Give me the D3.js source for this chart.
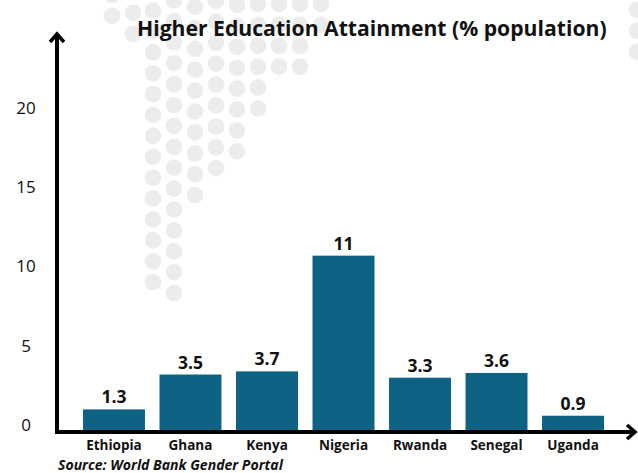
<!DOCTYPE html>
<html>
<head>
<meta charset="utf-8">
<script src="https://cdn.jsdelivr.net/npm/d3@7"></script>
<style>
  html, body { margin: 0; padding: 0; background: #ffffff; }
  svg { display: block; }
  text { font-family: "Open Sans", "Noto Sans", sans-serif; fill: #111111; }
</style>
</head>
<body>
<svg id="chart" width="638" height="473"></svg>
<script>
// Higher education attainment, share of population (%)
const countries = ["Ethiopia", "Ghana", "Kenya", "Nigeria", "Rwanda", "Senegal", "Uganda"];
const attainment = [1.3, 3.5, 3.7, 11, 3.3, 3.6, 0.9];
const valueLabels = ["1.3", "3.5", "3.7", "11", "3.3", "3.6", "0.9"];
const yTicks = [0, 5, 10, 15, 20];
const titleText = "Higher Education Attainment (% population)";
const sourceText = "Source: World Bank Gender Portal";

const W = 638, H = 473;
const svg = d3.select("#chart");

// ---- decorative dot pattern (background) ----
// each column: horizontal position, vertical phase and number of dots
const dotStep = 20.9;
const dotColumns = [
  { x: 112, y0: -5,   n: 2 },
  { x: 133, y0: -8,   n: 3 },
  { x: 153, y0: 10.5, n: 14 },
  { x: 174, y0: 0.5,  n: 15 },
  { x: 195, y0: 7,    n: 10 },
  { x: 216, y0: 1,    n: 9 },
  { x: 237, y0: 5,    n: 8 },
  { x: 258, y0: 4,    n: 6 },
  { x: 279, y0: 4,    n: 4 },
  { x: 300, y0: 4,    n: 4 },
  { x: 321, y0: 4,    n: 2 },
  { x: 637, y0: 10,   n: 3 }
];
const dots = dotColumns.flatMap(c => d3.range(c.n).map(i => ({ x: c.x, y: c.y0 + i * dotStep })));
svg.append("g")
  .selectAll("circle")
  .data(dots)
  .join("circle")
  .attr("cx", d => d.x)
  .attr("cy", d => d.y)
  .attr("r", 8.3)
  .attr("fill", "#ececec");

// ---- scales ----
const axisX = 57, axisY = 432;
const x = d3.scaleBand()
  .domain(countries)
  .range([83, 604])
  .paddingInner(0.19)
  .paddingOuter(0);
const y = d3.scaleLinear()
  .domain([0, 20])
  .range([430, 113]);

// ---- bars ----
svg.append("g")
  .selectAll("rect")
  .data(countries)
  .join("rect")
  .attr("x", d => x(d))
  .attr("width", x.bandwidth())
  .attr("y", (d, i) => y(attainment[i]))
  .attr("height", (d, i) => y(0) - y(attainment[i]))
  .attr("fill", "#0e6385");

// ---- value labels ----
svg.append("g")
  .selectAll("text")
  .data(countries)
  .join("text")
  .attr("x", d => x(d) + x.bandwidth() / 2)
  .attr("y", (d, i) => y(attainment[i]) - 6)
  .attr("text-anchor", "middle")
  .attr("font-size", 17.5)
  .attr("font-weight", 700)
  .text((d, i) => valueLabels[i]);

// ---- y axis tick labels ----
const yAxis = svg.append("g")
  .call(d3.axisLeft(y).tickValues(yTicks).tickSize(0).tickFormat(d3.format("d")));
yAxis.select(".domain").remove();
yAxis.selectAll("text")
  .attr("x", 26)
  .attr("text-anchor", "middle")
  .attr("font-size", 17)
  .attr("font-weight", 400)
  .attr("font-family", "'Open Sans', sans-serif")
  .attr("fill", "#1a1a1a")
  .attr("transform", "translate(0,-5)");

// ---- x axis category labels ----
const xAxis = svg.append("g")
  .attr("transform", `translate(0,${axisY})`)
  .call(d3.axisBottom(x).tickSize(0));
xAxis.select(".domain").remove();
xAxis.selectAll("text")
  .attr("y", 0)
  .attr("dy", "18px")
  .attr("font-size", 13.5)
  .attr("font-weight", 700)
  .attr("font-family", "'Open Sans', sans-serif")
  .attr("fill", "#111111");

// ---- axis lines with arrow heads ----
const axes = svg.append("g")
  .attr("fill", "none")
  .attr("stroke", "#000")
  .attr("stroke-width", 4)
  .attr("stroke-linejoin", "miter");
axes.append("path").attr("d", `M${axisX},${axisY + 2}V34`);
axes.append("path").attr("d", `M${axisX - 7},42L${axisX},34L${axisX + 7},42`).attr("stroke-width", 3.5);
axes.append("path").attr("d", `M${axisX - 2},${axisY}H635`);
axes.append("path").attr("d", `M627,${axisY - 7}L635,${axisY}L627,${axisY + 7}`).attr("stroke-width", 3.5);

// ---- title ----
const title = svg.append("text")
  .attr("x", 137)
  .attr("y", 36)
  .attr("font-size", 21)
  .attr("font-weight", 700)
  .text(titleText);
const tw = title.node().getComputedTextLength();
title.attr("font-size", 21 * 470 / tw);

// ---- source note ----
const source = svg.append("text")
  .attr("x", 58)
  .attr("y", 469.5)
  .attr("font-size", 13)
  .attr("font-weight", 700)
  .attr("font-style", "italic")
  .text(sourceText);
const sw = source.node().getComputedTextLength();
source.attr("font-size", 13 * 225 / sw);
</script>
</body>
</html>
